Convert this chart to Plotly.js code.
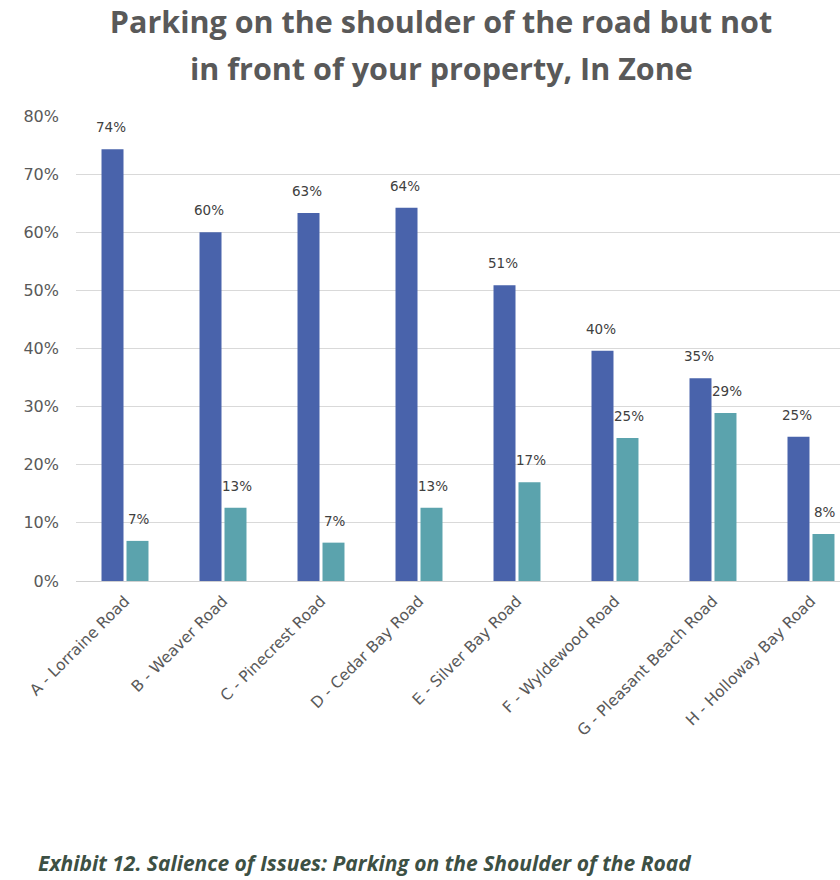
<!DOCTYPE html>
<html>
<head>
<meta charset="utf-8">
<script src="https://cdn.plot.ly/plotly-3.0.1.min.js"></script>
<style>html,body{margin:0;padding:0;background:#fff;}#chart{width:840px;height:880px;}</style>
</head>
<body>
<div id="chart"></div>
<script>
const categories = ["A - Lorraine Road","B - Weaver Road","C - Pinecrest Road","D - Cedar Bay Road","E - Silver Bay Road","F - Wyldewood Road","G - Pleasant Beach Road","H - Holloway Bay Road"];
const seriesA = [74.3, 60.0, 63.3, 64.2, 50.9, 39.6, 34.9, 24.8];
const seriesB = [6.9, 12.6, 6.6, 12.6, 17.0, 24.6, 28.9, 8.1];
const yTickVals = [0, 10, 20, 30, 40, 50, 60, 70, 80];
const yTickText = ["0%","10%","20%","30%","40%","50%","60%","70%","80%"];
const titleLines = ["Parking on the shoulder of the road but not", "in front of your property, In Zone"];
const caption = "Exhibit 12. Salience of Issues: Parking on the Shoulder of the Road";

const TFONT = "'Open Sans', sans-serif";
const FONT = "'DejaVu Sans', sans-serif";
const blue = "#4963ab";
const teal = "#5ba3ad";

const traces = [
  {type:"bar", x:categories, y:seriesA, marker:{color:blue}, name:"A", hoverinfo:"skip"},
  {type:"bar", x:categories, y:seriesB, marker:{color:teal}, name:"B", hoverinfo:"skip"}
];

const annotations = [];
categories.forEach((c,i)=>{
  annotations.push({x:c, y:seriesA[i], xref:"x", yref:"y", text:Math.round(seriesA[i])+"%", showarrow:false, xshift:-14, yshift:22, font:{family:FONT,size:13.5,color:"#404040"}});
  annotations.push({x:c, y:seriesB[i], xref:"x", yref:"y", text:Math.round(seriesB[i])+"%", showarrow:false, xshift:14, yshift:22, font:{family:FONT,size:13.5,color:"#404040"}});
});
annotations.push({xref:"paper", yref:"paper", x:0.479, y:1.103, xanchor:"center", yanchor:"middle", showarrow:false,
  text:"<b>"+titleLines[1]+"</b>", font:{family:TFONT, size:30.5, color:"#595959"}});
annotations.push({xref:"paper", yref:"paper", x:-0.052, y:-0.6065, xanchor:"left", yanchor:"middle", showarrow:false,
  text:"<b><i>"+caption+"</i></b>",
  font:{family:TFONT, size:21, color:"#3d5044"}});

const layout = {
  width:840, height:880,
  margin:{l:76, r:0, t:116, b:299},
  paper_bgcolor:"#fff", plot_bgcolor:"#fff",
  showlegend:false,
  barmode:"group", bargap:0.49, bargroupgap:0.12,
  title:{text:"<b>"+titleLines[0]+"</b>", x:0.525, xref:"container", xanchor:"center", y:1-22/880, yref:"container", yanchor:"middle",
    font:{family:TFONT, size:30.5, color:"#595959"}},
  xaxis:{type:"category", range:[-0.5, 7.296], tickangle:-45, tickfont:{family:FONT,size:15.5,color:"#595959"}, showgrid:false, showline:false, ticks:"", zeroline:false, ticklabelstandoff:7},
  yaxis:{range:[0,80], tickvals:yTickVals, ticktext:yTickText, tickfont:{family:FONT,size:16,color:"#595959"}, showgrid:true, gridcolor:"#d9d9d9", gridwidth:1, zeroline:true, zerolinecolor:"#d0d0d0", zerolinewidth:1, ticks:"", showline:false, ticklabelstandoff:16},
  annotations:annotations
};
Plotly.newPlot("chart", traces, layout, {displayModeBar:false, staticPlot:true});
</script>
</body>
</html>
